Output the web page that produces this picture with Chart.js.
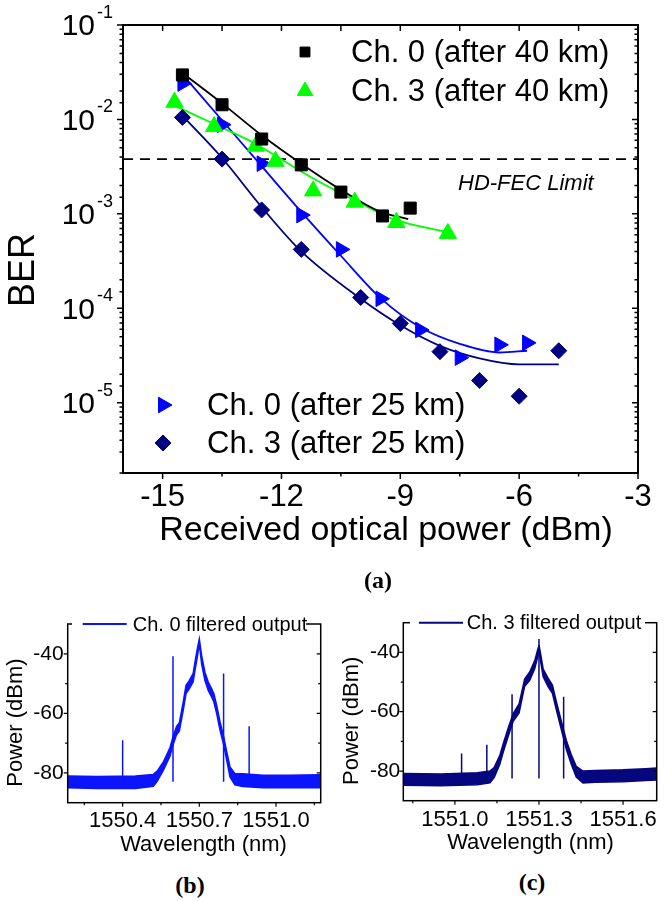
<!DOCTYPE html>
<html><head><meta charset="utf-8">
<script src="https://cdn.jsdelivr.net/npm/chart.js@4.4.0/dist/chart.umd.min.js"></script>
<style>
html,body{margin:0;padding:0;background:#fff;}
body{width:665px;height:901px;position:relative;overflow:hidden;font-family:'Liberation Sans',Arial,sans-serif;}
canvas{position:absolute;}
.lbl{position:absolute;font-family:'Liberation Serif','Times New Roman',serif;font-weight:bold;font-size:24px;color:#000;transform:translate(-50%,-50%);white-space:nowrap;}
</style></head><body>
<canvas id="ca" width="665" height="560" style="left:0;top:0"></canvas>
<canvas id="cb" width="332" height="270" style="left:0;top:590px"></canvas>
<canvas id="cc" width="333" height="270" style="left:332px;top:590px"></canvas>
<div class="lbl" style="left:378px;top:580px">(a)</div>
<div class="lbl" style="left:190px;top:885px">(b)</div>
<div class="lbl" style="left:532px;top:882px">(c)</div>
<script>
// ---------------- (a) BER vs received optical power ----------------
const RX_CH0_40  = [-14.5,-13.5,-12.5,-11.5,-10.5,-9.45,-8.75];
const BER_CH0_40 = [0.0296,0.0143,0.0062,0.0033,0.0017,0.00095,0.00115];
const RX_CH3_40  = [-14.7,-13.7,-12.65,-12.15,-11.2,-10.15,-9.1,-7.8];
const BER_CH3_40 = [0.0152,0.0084,0.0052,0.0036,0.00175,0.00133,0.00081,0.00062];
const RX_CH0_25  = [-14.5,-13.5,-12.5,-11.5,-10.5,-9.5,-8.5,-7.5,-6.5,-5.8];
const BER_CH0_25 = [0.024,0.0088,0.0034,0.00097,0.00042,0.000126,0.000059,0.000030,0.000041,0.000043];
const RX_CH3_25  = [-14.5,-13.5,-12.5,-11.5,-10,-9,-8,-7,-6,-5];
const BER_CH3_25 = [0.0105,0.0038,0.0011,0.00042,0.00013,0.000069,0.0000347,0.0000172,0.0000117,0.0000355];
// fitted curves
const FIT_CH0_40_X = [-14.5,-13.5,-12.5,-11.5,-10.5,-9.5,-8.8];
const FIT_CH0_40_Y = [0.031,0.0148,0.0068,0.0034,0.0018,0.00105,0.00088];
const FIT_CH3_40_X = [-14.75,-13.74,-12.68,-12.18,-11.22,-10.23,-9.18,-7.8];
const FIT_CH3_40_Y = [0.0143,0.0091,0.0056,0.0042,0.0024,0.00145,0.00088,0.00064];
const FIT_CH0_25_X = [-14.5,-13.5,-12.5,-11.5,-10.5,-9.5,-8.5,-7.5,-6.5,-5.8];
const FIT_CH0_25_Y = [0.030,0.0098,0.0032,0.00105,0.00036,0.000128,0.000063,0.000042,0.000034,0.0000355];
const FIT_CH3_25_X = [-14.55,-13.5,-12.5,-11.5,-10,-9,-8,-7,-6,-5];
const FIT_CH3_25_Y = [0.0115,0.0039,0.00118,0.00040,0.000126,0.000066,0.000040,0.0000295,0.0000255,0.0000255];
const HD_FEC = 3.8e-3;
const X_RANGE_A = [-16,-3];
const Y_RANGE_A = [1.8e-6,0.1];
const X_TICKS_A = [-15,-12,-9,-6,-3];
const X_MINOR_A = [-13.5,-10.5,-7.5,-4.5];
const Y_TICK_EXP_A = [-1,-2,-3,-4,-5];
const LEGEND_A = ['Ch. 0 (after 40 km)','Ch. 3 (after 40 km)','Ch. 0 (after 25 km)','Ch. 3 (after 25 km)'];

// ---------------- (b) Ch. 0 spectrum ----------------
const B_NM = [1550.185,1550.30,1550.45,1550.52,1550.535,1550.56,1550.585,1550.598,1550.611,1550.622,1550.637,1550.648,1550.660,1550.676,1550.683,1550.692,1550.700,1550.709,1550.722,1550.735,1550.748,1550.757,1550.768,1550.781,1550.794,1550.807,1550.820,1550.839,1550.87,1550.95,1551.05,1551.175];
const B_HI = [-81,-81.2,-81,-80.5,-79.4,-76.2,-71.6,-67.6,-64.4,-63.1,-56.2,-50.6,-49.1,-46.6,-42.8,-38.4,-35.0,-40.6,-46.2,-49.5,-51.7,-53.4,-57.3,-62.8,-67.3,-72.8,-78,-80.2,-80.3,-80.8,-80.8,-80.6];
const B_LO = [-85,-85.2,-85.2,-84.5,-82.8,-79,-74.4,-70.4,-67.2,-65.9,-59,-53.4,-51.9,-49.4,-45.6,-41.2,-36.6,-43.4,-49,-52.3,-54.5,-56.2,-60.1,-65.6,-70.1,-75.6,-81.4,-84,-84.6,-85,-85,-85];
const B_SPIKE_NM  = [1550.400,1550.597,1550.795,1550.895];
const B_SPIKE_TOP = [-69,-40.8,-46.6,-64.3];
const B_SPIKE_BASE = -83;
const B_X_RANGE = [1550.185,1551.175];
const B_X_TICKS = [1550.4,1550.7,1551.0];
const B_X_MINOR = [1550.25,1550.55,1550.85,1551.15];

// ---------------- (c) Ch. 3 spectrum ----------------
const C_NM = [1550.816,1550.95,1551.08,1551.125,1551.14,1551.16,1551.172,1551.19,1551.208,1551.229,1551.249,1551.267,1551.285,1551.297,1551.300,1551.305,1551.315,1551.333,1551.348,1551.362,1551.380,1551.398,1551.415,1551.433,1551.457,1551.50,1551.60,1551.68,1551.72];
const C_HI = [-80.8,-81.0,-80.6,-80.0,-78.8,-74.8,-71.0,-65.6,-60.6,-57.4,-49.0,-46.6,-42.8,-38.5,-37.6,-40.1,-45.6,-48.8,-51.0,-56.6,-63.3,-69.8,-74.4,-78.4,-80.0,-79.8,-79.6,-79.2,-79.0];
const C_LO = [-84.8,-85.0,-84.6,-84.0,-82.2,-77.8,-73.8,-68.4,-63.2,-60.4,-51.4,-49.4,-45.4,-40.9,-39.6,-42.5,-48.2,-51.6,-53.8,-59.4,-66.1,-72.8,-77.6,-82.0,-84.0,-83.8,-83.6,-83.2,-83.0];
const C_SPIKE_NM  = [1551.024,1551.114,1551.204,1551.300,1551.388];
const C_SPIKE_TOP = [-74.1,-71.1,-54.1,-35.5,-55];
const C_SPIKE_BASE = -82.5;
const C_X_RANGE = [1550.816,1551.72];
const C_X_TICKS = [1551.0,1551.3,1551.6];
const C_X_MINOR = [1550.85,1551.15,1551.45];

const P_Y_RANGE = [-90,-30];
const P_Y_TICKS = [-80,-60,-40];
const P_Y_MINOR = [-70,-50];

// ------------------------------------------------------------------
const FONT = "'Liberation Sans', Arial, Helvetica, sans-serif";
const pts = (xs, ys) => xs.map((x, i) => ({x, y: ys[i]}));
const spikes = (xs, tops, base) => {
  const out = [];
  xs.forEach((x, i) => { out.push({x, y: base}, {x, y: tops[i]}, {x, y: null}); });
  return out;
};

function drawFrame(chart, o) {
  const ctx = chart.ctx;
  const {left, right, top, bottom} = chart.chartArea;
  const xs = chart.scales.x, ys = chart.scales.y;
  ctx.save();
  ctx.strokeStyle = '#000';
  ctx.lineWidth = o.tickLw;
  ctx.beginPath();
  const t = (x1, y1, x2, y2) => { ctx.moveTo(x1, y1); ctx.lineTo(x2, y2); };
  o.xMajor.forEach(v => { const p = xs.getPixelForValue(v); t(p, bottom, p, bottom + o.maj); if (o.topTicks) t(p, top, p, top + o.maj); });
  o.xMinor.forEach(v => { const p = xs.getPixelForValue(v); t(p, bottom, p, bottom + o.min); if (o.topTicks) t(p, top, p, top + o.maj); });
  o.yMajor.forEach(v => { const p = ys.getPixelForValue(v); t(left - o.maj, p, left, p); t(right - o.maj, p, right, p); });
  o.yMinor.forEach(v => { const p = ys.getPixelForValue(v); t(left - o.min, p, left, p); t(right - o.min, p, right, p); });
  ctx.stroke();
  ctx.lineWidth = o.lw;
  ctx.strokeRect(left, top, right - left, bottom - top);
  ctx.restore();
}

function text(ctx, s, x, y, font, align, rot) {
  ctx.save();
  ctx.font = font;
  ctx.fillStyle = '#000';
  ctx.textAlign = align || 'center';
  ctx.textBaseline = 'middle';
  ctx.translate(x, y);
  if (rot) ctx.rotate(rot);
  ctx.fillText(s, 0, 0);
  ctx.restore();
}

const common = {
  responsive: false, animation: false, events: [],
  plugins: { legend: { display: false }, tooltip: { enabled: false } },
};

// ---------------- chart (a) ----------------
const COL_A = ['#000000', '#00ff00', '#0000ff', '#000080'];
new Chart(document.getElementById('ca'), {
  type: 'line',
  data: {
    datasets: [
      {label: LEGEND_A[0], data: pts(RX_CH0_40, BER_CH0_40), showLine: false, pointStyle: 'rect', pointRadius: 8.5, backgroundColor: COL_A[0], borderColor: COL_A[0], pointBorderWidth: 1},
      {label: LEGEND_A[1], data: pts(RX_CH3_40, BER_CH3_40), showLine: false, pointStyle: 'triangle', pointRadius: 10, backgroundColor: COL_A[1], borderColor: COL_A[1], pointBorderWidth: 1},
      {label: LEGEND_A[2], data: pts(RX_CH0_25, BER_CH0_25), showLine: false, pointStyle: 'triangle', pointRotation: 90, pointRadius: 9, backgroundColor: COL_A[2], borderColor: COL_A[2], pointBorderWidth: 1},
      {label: LEGEND_A[3], data: pts(RX_CH3_25, BER_CH3_25), showLine: false, pointStyle: 'rectRot', pointRadius: 8, backgroundColor: COL_A[3], borderColor: COL_A[3], pointBorderWidth: 1},
      {label: 'fit0_40', data: pts(FIT_CH0_40_X, FIT_CH0_40_Y), pointRadius: 0, borderColor: COL_A[0], borderWidth: 1.8, cubicInterpolationMode: 'monotone'},
      {label: 'fit3_40', data: pts(FIT_CH3_40_X, FIT_CH3_40_Y), pointRadius: 0, borderColor: COL_A[1], borderWidth: 1.8, cubicInterpolationMode: 'monotone'},
      {label: 'fit0_25', data: pts(FIT_CH0_25_X, FIT_CH0_25_Y), pointRadius: 0, borderColor: COL_A[2], borderWidth: 1.8, cubicInterpolationMode: 'monotone'},
      {label: 'fit3_25', data: pts(FIT_CH3_25_X, FIT_CH3_25_Y), pointRadius: 0, borderColor: COL_A[3], borderWidth: 1.8, cubicInterpolationMode: 'monotone'},
      {label: 'HD-FEC', data: pts(X_RANGE_A, [HD_FEC, HD_FEC]), pointRadius: 0, borderColor: '#000', borderWidth: 1.6, borderDash: [10, 7]},
    ]
  },
  options: {
    ...common,
    layout: { padding: { left: 0, top: 25, right: 27, bottom: 0 } },
    scales: {
      x: {
        type: 'linear', min: X_RANGE_A[0], max: X_RANGE_A[1],
        grid: { display: false, drawTicks: false }, border: { display: false },
        afterBuildTicks: s => { s.ticks = X_TICKS_A.map(v => ({value: v})); },
        afterFit: s => { s.height = 87; },
        ticks: { color: '#000', padding: 6, font: { family: FONT, size: 31 }, maxRotation: 0, autoSkip: false, callback: v => String(v) }
      },
      y: {
        type: 'logarithmic', min: Y_RANGE_A[0], max: Y_RANGE_A[1],
        grid: { display: false, drawTicks: false }, border: { display: false },
        ticks: { display: false },
        afterFit: s => { s.width = 123; }
      }
    }
  },
  plugins: [{
    id: 'decorA',
    afterDraw(chart) {
      const ctx = chart.ctx, ys = chart.scales.y;
      const {left} = chart.chartArea;
      const yt = ys.ticks.map(t => t.value).filter(v => v >= Y_RANGE_A[0] && v <= Y_RANGE_A[1]);
      const isMaj = v => Math.abs(Math.log10(v) - Math.round(Math.log10(v))) < 1e-6;
      drawFrame(chart, {lw: 2, tickLw: 1.5, maj: 6, min: 3.5, topTicks: true,
        xMajor: X_TICKS_A, xMinor: X_MINOR_A,
        yMajor: yt.filter(isMaj), yMinor: yt.filter(v => !isMaj(v))});
      // y tick labels with superscripts
      Y_TICK_EXP_A.forEach(e => {
        const p = ys.getPixelForValue(Math.pow(10, e));
        text(ctx, '10', left - 28, p + 2, `30px ${FONT}`, 'right');
        text(ctx, '-' + (-e), left - 26, p - 12, `18px ${FONT}`, 'left');
      });
      // axis titles
      text(ctx, 'BER', 24, 270, `36px ${FONT}`, 'center', -Math.PI / 2);
      text(ctx, 'Received optical power (dBm)', 386, 531, `34px ${FONT}`, 'center');
      // HD-FEC label
      text(ctx, 'HD-FEC Limit', 458, 184, `italic 22px ${FONT}`, 'left');
      // legends
      const ents = [[0, 305, 52, 351, 7], [1, 305, 91, 351, 9], [2, 163, 405, 207, 9], [3, 163, 443, 207, 8]];
      ents.forEach(([i, mx, my, tx, r]) => {
        const ds = chart.data.datasets[i];
        ctx.save();
        ctx.fillStyle = ds.backgroundColor; ctx.strokeStyle = ds.borderColor; ctx.lineWidth = 1;
        Chart.helpers.drawPoint(ctx, {pointStyle: ds.pointStyle, radius: r, rotation: ds.pointRotation || 0, borderWidth: 1}, mx, my);
        ctx.restore();
        text(ctx, ds.label, tx, my + 1, `31px ${FONT}`, 'left');
      });
    }
  }]
});

// ---------------- spectrum charts (b), (c) ----------------
function spectrum(id, cfg) {
  new Chart(document.getElementById(id), {
    type: 'line',
    data: {
      datasets: [
        {label: cfg.legend, data: spikes(cfg.sx, cfg.st, cfg.sb), pointRadius: 0, borderColor: cfg.color, borderWidth: 1.5, spanGaps: false},
        {label: 'hi', data: pts(cfg.nm, cfg.hi), pointRadius: 0, borderColor: cfg.color, borderWidth: 1.5, fill: false, tension: 0},
        {label: 'lo', data: pts(cfg.nm, cfg.lo), pointRadius: 0, borderColor: cfg.color, borderWidth: 1.5, fill: '-1', backgroundColor: cfg.color, tension: 0},
      ]
    },
    options: {
      ...common,
      layout: { padding: { left: 0, top: cfg.top, right: cfg.right, bottom: 0 } },
      scales: {
        x: {
          type: 'linear', min: cfg.xr[0], max: cfg.xr[1],
          grid: { display: false, drawTicks: false }, border: { display: false },
          afterBuildTicks: s => { s.ticks = cfg.xt.map(v => ({value: v})); },
          afterFit: s => { s.height = cfg.xh; },
          ticks: { color: '#000', padding: cfg.xpad, font: { family: FONT, size: 22 }, maxRotation: 0, autoSkip: false, callback: v => v.toFixed(1) }
        },
        y: {
          type: 'linear', min: P_Y_RANGE[0], max: P_Y_RANGE[1],
          grid: { display: false, drawTicks: false }, border: { display: false },
          afterBuildTicks: s => { s.ticks = P_Y_TICKS.map(v => ({value: v})); },
          afterFit: s => { s.width = cfg.yw; },
          ticks: { color: '#000', padding: cfg.ypad, font: { family: FONT, size: 21 }, callback: v => String(v) }
        }
      }
    },
    plugins: [{
      id: 'decor_' + id,
      afterDraw(chart) {
        const ctx = chart.ctx;
        const {top} = chart.chartArea;
        drawFrame(chart, {lw: 1.5, tickLw: 1.2, maj: 4, min: 2.5, topTicks: false,
          xMajor: cfg.xt, xMinor: cfg.xm, yMajor: P_Y_TICKS, yMinor: P_Y_MINOR});
        // legend box over the top border
        ctx.save();
        ctx.fillStyle = '#fff';
        ctx.fillRect(cfg.lg[0], top - 10, cfg.lg[1] - cfg.lg[0], 20);
        ctx.strokeStyle = cfg.color; ctx.lineWidth = 2;
        ctx.beginPath(); ctx.moveTo(cfg.lg[2], top); ctx.lineTo(cfg.lg[3], top); ctx.stroke();
        ctx.restore();
        text(ctx, cfg.legend, cfg.lg[4], top + 1, `20px ${FONT}`, 'left');
        text(ctx, 'Power (dBm)', cfg.yt[0], cfg.yt[1], `22px ${FONT}`, 'center', -Math.PI / 2);
        text(ctx, 'Wavelength (nm)', cfg.xtl[0], cfg.xtl[1], `22px ${FONT}`, 'center');
      }
    }]
  });
}

spectrum('cb', {
  legend: 'Ch. 0 filtered output', color: '#0a14ff',
  nm: B_NM, hi: B_HI, lo: B_LO, sx: B_SPIKE_NM, st: B_SPIKE_TOP, sb: B_SPIKE_BASE,
  xr: B_X_RANGE, xt: B_X_TICKS, xm: B_X_MINOR,
  top: 34, right: 11.3, xh: 57.3, yw: 67.7, xpad: 5.5, ypad: 4,
  lg: [72, 306, 82.7, 126.7, 132.7], yt: [16, 132.5], xtl: [203.5, 255]
});
spectrum('cc', {
  legend: 'Ch. 3 filtered output', color: '#06067e',
  nm: C_NM, hi: C_HI, lo: C_LO, sx: C_SPIKE_NM, st: C_SPIKE_TOP, sb: C_SPIKE_BASE,
  xr: C_X_RANGE, xt: C_X_TICKS, xm: C_X_MINOR,
  top: 32.7, right: 8.3, xh: 59.3, yw: 71.3, xpad: 6.2, ypad: 3,
  lg: [78, 313, 87, 131, 134.7], yt: [20, 130.8], xtl: [198.5, 253.3]
});
</script>
</body></html>
